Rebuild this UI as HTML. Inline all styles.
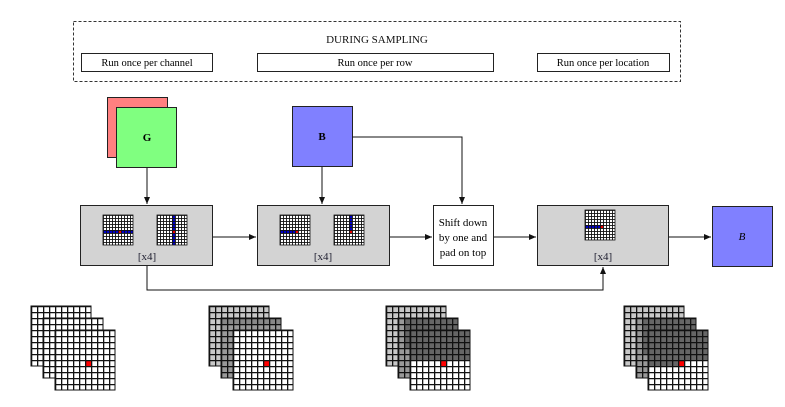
<!DOCTYPE html>
<html><head><meta charset="utf-8"><style>
html,body{margin:0;padding:0;background:#fff;}
svg{display:block;font-family:"Liberation Serif",serif;}
</style></head><body>
<svg width="785" height="407" viewBox="0 0 785 407" xmlns="http://www.w3.org/2000/svg">
<defs>
<pattern id="big" patternUnits="userSpaceOnUse" width="6" height="6"><path d="M0 0H6V1.3H0ZM0 0H1.3V6H0Z" fill="#111"/></pattern>
<pattern id="mini" patternUnits="userSpaceOnUse" width="3" height="3"><path d="M0 0H3V0.9H0ZM0 0H0.9V3H0Z" fill="#111"/></pattern>
<marker id="ar" markerWidth="8" markerHeight="8" refX="7" refY="4" orient="auto" markerUnits="userSpaceOnUse"><path d="M0 1L7 4L0 7Z" fill="#111"/></marker>
</defs>

<rect x="73.5" y="21.5" width="607" height="60" fill="none" stroke="#333" stroke-dasharray="3,2"/>
<text x="377" y="43" font-size="11" text-anchor="middle" fill="#111">DURING SAMPLING</text>
<rect x="81.5" y="53.5" width="131" height="18" fill="#fff" stroke="#222"/>
<text x="147" y="66" font-size="10.5" text-anchor="middle">Run once per channel</text>
<rect x="257.5" y="53.5" width="236" height="18" fill="#fff" stroke="#222"/>
<text x="375" y="66" font-size="10.5" text-anchor="middle">Run once per row</text>
<rect x="537.5" y="53.5" width="132" height="18" fill="#fff" stroke="#222"/>
<text x="603" y="66" font-size="10.5" text-anchor="middle">Run once per location</text>

<rect x="107.5" y="97.5" width="60" height="60" fill="#ff8080" stroke="#222"/>
<rect x="116.5" y="107.5" width="60" height="60" fill="#80ff80" stroke="#222"/>
<text x="147" y="141" font-size="11" font-weight="bold" text-anchor="middle">G</text>
<rect x="292.5" y="106.5" width="60" height="60" fill="#8080ff" stroke="#222"/>
<text x="322" y="140" font-size="11" font-weight="bold" text-anchor="middle">B</text>

<g stroke="#111" stroke-width="1" fill="none">
<line x1="147" y1="168" x2="147" y2="204" marker-end="url(#ar)"/>
<line x1="322" y1="167" x2="322" y2="204" marker-end="url(#ar)"/>
<path d="M352 137H462V204" marker-end="url(#ar)"/>
<line x1="213" y1="237" x2="256" y2="237" marker-end="url(#ar)"/>
<line x1="390" y1="237" x2="432" y2="237" marker-end="url(#ar)"/>
<line x1="493" y1="237" x2="536" y2="237" marker-end="url(#ar)"/>
<line x1="669" y1="237" x2="711" y2="237" marker-end="url(#ar)"/>
<path d="M147 266V290H603V267" marker-end="url(#ar)"/>
</g>

<rect x="80.5" y="205.5" width="132" height="60" fill="#d3d3d3" stroke="#222"/>
<rect x="257.5" y="205.5" width="132" height="60" fill="#d3d3d3" stroke="#222"/>
<rect x="537.5" y="205.5" width="131" height="60" fill="#d3d3d3" stroke="#222"/>
<text x="147" y="260" font-size="11" text-anchor="middle" fill="#223">[x4]</text>
<text x="323" y="260" font-size="11" text-anchor="middle" fill="#223">[x4]</text>
<text x="603" y="260" font-size="11" text-anchor="middle" fill="#223">[x4]</text>

<rect x="433.5" y="205.5" width="60" height="60" fill="#fff" stroke="#222"/>
<text font-size="11" text-anchor="middle"><tspan x="463" y="226">Shift down</tspan><tspan x="463" y="241">by one and</tspan><tspan x="463" y="256">pad on top</tspan></text>

<rect x="712.5" y="206.5" width="60" height="60" fill="#8080ff" stroke="#222"/>
<text x="742" y="240" font-size="11" font-style="italic" text-anchor="middle">B</text>

<g transform="translate(103,215)"><rect width="30" height="30" fill="#fff"/><rect x="0" y="15" width="30" height="3" fill="#0000c8"/><rect x="15" y="15" width="3" height="3" fill="#e00"/><rect width="30" height="30" fill="url(#mini)" stroke="#111" stroke-width="0.8"/></g>
<g transform="translate(157,215)"><rect width="30" height="30" fill="#fff"/><rect x="15" y="0" width="3" height="30" fill="#0000c8"/><rect x="15" y="15" width="3" height="3" fill="#e00"/><rect width="30" height="30" fill="url(#mini)" stroke="#111" stroke-width="0.8"/></g>
<g transform="translate(280,215)"><rect width="30" height="30" fill="#fff"/><rect x="0" y="15" width="15" height="3" fill="#0000c8"/><rect x="15" y="15" width="3" height="3" fill="#e00"/><rect width="30" height="30" fill="url(#mini)" stroke="#111" stroke-width="0.8"/></g>
<g transform="translate(334,215)"><rect width="30" height="30" fill="#fff"/><rect x="15" y="0" width="3" height="15" fill="#0000c8"/><rect x="15" y="15" width="3" height="3" fill="#e00"/><rect width="30" height="30" fill="url(#mini)" stroke="#111" stroke-width="0.8"/></g>
<g transform="translate(585,210)"><rect width="30" height="30" fill="#fff"/><rect x="0" y="15" width="15" height="3" fill="#0000c8"/><rect x="15" y="15" width="3" height="3" fill="#e00"/><rect width="30" height="30" fill="url(#mini)" stroke="#111" stroke-width="0.8"/></g>

<g transform="translate(31,306)"><rect width="60" height="60" fill="#fff"/><rect width="60" height="60" fill="url(#big)" stroke="#111"/></g>
<g transform="translate(43,318)"><rect width="60" height="60" fill="#fff"/><rect width="60" height="60" fill="url(#big)" stroke="#111"/></g>
<g transform="translate(55,330)"><rect width="60" height="60" fill="#fff"/><rect x="30" y="30" width="6" height="6" fill="#f00"/><rect width="60" height="60" fill="url(#big)" stroke="#111"/></g>

<g transform="translate(209,306)"><rect width="60" height="60" fill="#c8c8c8"/><rect width="60" height="60" fill="url(#big)" stroke="#111"/></g>
<g transform="translate(221,318)"><rect width="60" height="60" fill="#999"/><rect width="60" height="6" fill="#888"/><rect width="60" height="60" fill="url(#big)" stroke="#111"/></g>
<g transform="translate(233,330)"><rect width="60" height="60" fill="#fff"/><rect x="30" y="30" width="6" height="6" fill="#f00"/><rect width="60" height="60" fill="url(#big)" stroke="#111"/></g>

<g transform="translate(386,306)"><rect width="60" height="60" fill="#c8c8c8"/><rect width="60" height="60" fill="url(#big)" stroke="#111"/></g>
<g transform="translate(398,318)"><rect width="60" height="60" fill="#999"/><rect x="6" width="54" height="30" fill="#666"/><rect width="60" height="60" fill="url(#big)" stroke="#111"/></g>
<g transform="translate(410,330)"><rect width="60" height="60" fill="#fff"/><rect width="60" height="30" fill="#666"/><rect x="30" y="30" width="6" height="6" fill="#f00"/><rect width="60" height="60" fill="url(#big)" stroke="#111"/></g>

<g transform="translate(624,306)"><rect width="60" height="60" fill="#c8c8c8"/><rect width="60" height="60" fill="url(#big)" stroke="#111"/></g>
<g transform="translate(636,318)"><rect width="60" height="60" fill="#999"/><rect x="6" width="54" height="36" fill="#666"/><rect width="60" height="60" fill="url(#big)" stroke="#111"/></g>
<g transform="translate(648,330)"><rect width="60" height="60" fill="#fff"/><rect width="60" height="30" fill="#666"/><rect y="30" width="30" height="6" fill="#666"/><rect x="30" y="30" width="6" height="6" fill="#f00"/><rect width="60" height="60" fill="url(#big)" stroke="#111"/></g>
</svg>
</body></html>
